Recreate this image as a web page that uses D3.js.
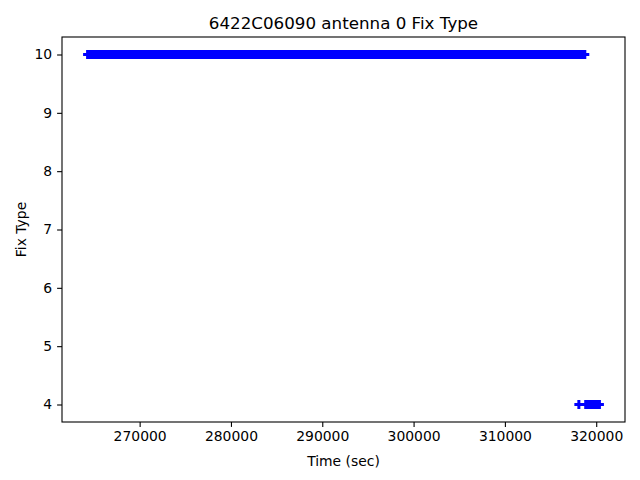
<!DOCTYPE html>
<html>
<head>
<meta charset="utf-8">
<script src="https://cdn.jsdelivr.net/npm/d3@7"></script>
<style>
  body { margin: 0; background: #fff; }
  text { font-family: "DejaVu Sans", sans-serif; fill: #000; }
</style>
</head>
<body>
<div id="chart"></div>
<script>
const width = 640,
      height = 480,
      margin = {top: 37, right: 15, bottom: 58, left: 62};

// runs of consecutive samples (Fix Type held over a time span)
const runFix = [10, 4, 4];
const runStart = [264300, 318100, 318850];
const runEnd = [318750, 318100, 320350];

const xTicks = [270000, 280000, 290000, 300000, 310000, 320000];
const yTicks = [4, 5, 6, 7, 8, 9, 10];

const title = "6422C06090 antenna 0 Fix Type";

const runs = runFix.map((f, i) => ({fix: f, start: runStart[i], end: runEnd[i]}));

const svg = d3.select("#chart")
  .append("svg")
  .attr("width", width)
  .attr("height", height);

// matplotlib-like 5% margins
const xMin = d3.min(runStart), xMax = d3.max(runEnd);
const xPad = (xMax - xMin) * 0.05;
const yMin = d3.min(runFix), yMax = d3.max(runFix);
const yPad = (yMax - yMin) * 0.05;

const x = d3.scaleLinear()
  .domain([xMin - xPad, xMax + xPad])
  .range([margin.left, width - margin.right]);

const y = d3.scaleLinear()
  .domain([yMin - yPad, yMax + yPad])
  .range([height - margin.bottom, margin.top]);

//Marks: "+" markers, packed so dense they form a band
const ms = 9, mw = 3;
const marks = svg.append("g").attr("fill", "#0000ff");

marks.selectAll(".vband")
  .data(runs)
  .enter()
  .append("rect")
  .attr("x", d => x(d.start) - mw / 2)
  .attr("y", d => y(d.fix) - ms / 2)
  .attr("width", d => x(d.end) - x(d.start) + mw)
  .attr("height", ms);

marks.selectAll(".hband")
  .data(runs)
  .enter()
  .append("rect")
  .attr("x", d => x(d.start) - ms / 2)
  .attr("y", d => y(d.fix) - mw / 2)
  .attr("width", d => x(d.end) - x(d.start) + ms)
  .attr("height", mw);

//Axes
const xAxis = d3.axisBottom(x)
  .tickValues(xTicks)
  .tickFormat(d3.format("d"))
  .tickSize(4.9)
  .tickPadding(4);

const yAxis = d3.axisLeft(y)
  .tickValues(yTicks)
  .tickFormat(d3.format("d"))
  .tickSize(4.9)
  .tickPadding(5);

const gx = svg.append("g")
  .attr("transform", `translate(0, ${height - margin.bottom})`)
  .call(xAxis);

const gy = svg.append("g")
  .attr("transform", `translate(${margin.left}, 0)`)
  .call(yAxis);

[gx, gy].forEach(g => {
  g.select(".domain").remove();
  g.selectAll(".tick line").attr("stroke", "#000").attr("stroke-width", 1.1);
  g.selectAll(".tick text")
    .style("font-family", "DejaVu Sans, sans-serif")
    .style("font-size", "13.9px")
    .attr("fill", "#000");
});

// frame
svg.append("rect")
  .attr("x", margin.left)
  .attr("y", margin.top)
  .attr("width", width - margin.left - margin.right)
  .attr("height", height - margin.top - margin.bottom)
  .attr("fill", "none")
  .attr("stroke", "#000")
  .attr("stroke-width", 1.1);

//Labels
svg.append("text")
  .attr("x", (margin.left + width - margin.right) / 2)
  .attr("y", 28.5)
  .attr("text-anchor", "middle")
  .style("font-size", "16.7px")
  .text(title);

svg.append("text")
  .attr("x", (margin.left + width - margin.right) / 2)
  .attr("y", 466)
  .attr("text-anchor", "middle")
  .style("font-size", "13.9px")
  .text("Time (sec)");

svg.append("text")
  .attr("transform", `translate(26, ${(margin.top + height - margin.bottom) / 2}) rotate(-90)`)
  .attr("text-anchor", "middle")
  .style("font-size", "13.9px")
  .text("Fix Type");
</script>
</body>
</html>
